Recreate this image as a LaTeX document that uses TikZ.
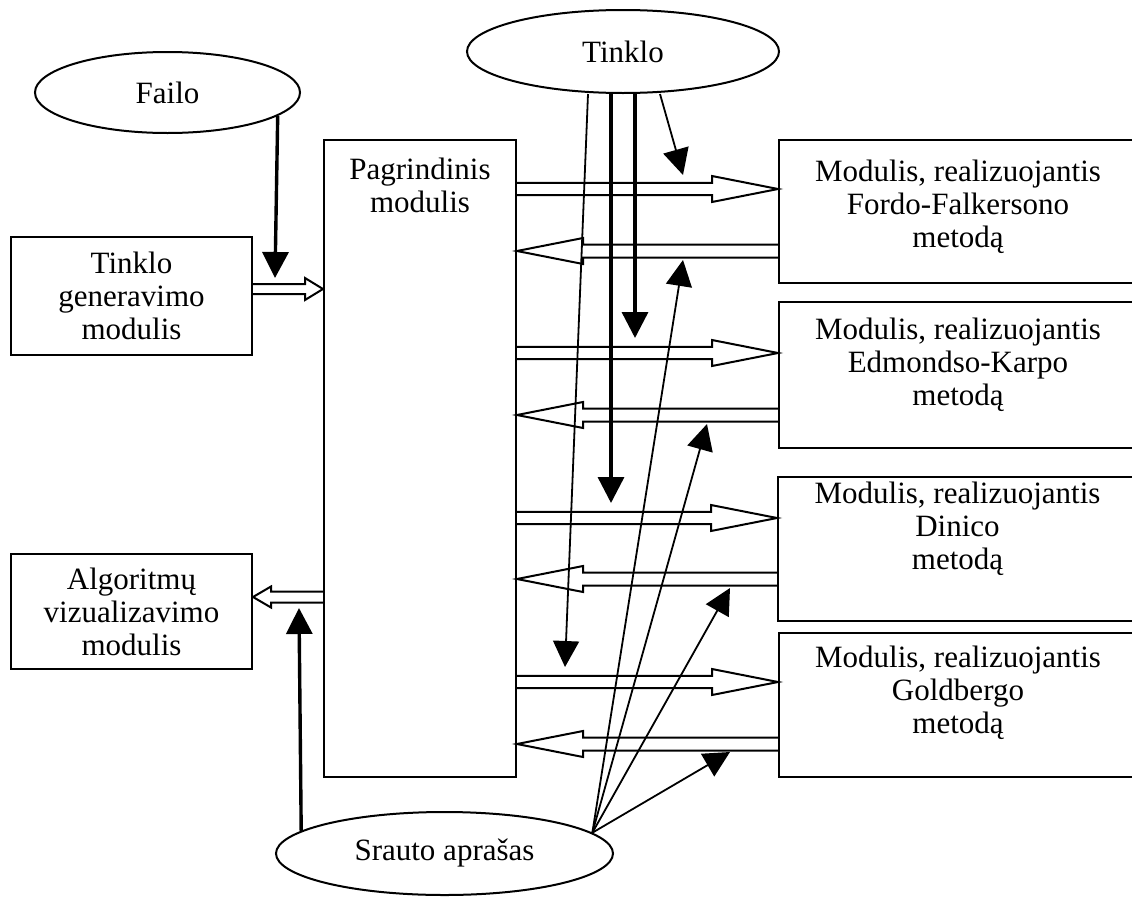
\documentclass[tikz,border=0pt]{standalone}
\usepackage{fontspec}
\setmainfont{Liberation Serif}
\usetikzlibrary{arrows.meta,calc,shapes.geometric}
\newcommand\hollowarrow[5]{%
  \draw[hollow] let \p1=(#1), \p2=(#2) in
    (\x1,{\y2+#3}) -- ({\x2-(#5)},{\y2+#3}) -- ({\x2-(#5)},{\y2+#4}) -- (\x2,\y2)
    -- ({\x2-(#5)},{\y2-#4}) -- ({\x2-(#5)},{\y2-#3}) -- (\x1,{\y2-#3});}
\begin{document}
\begin{tikzpicture}[x=1pt,y=-1pt,
  box/.style={draw, line width=2pt, inner sep=0pt, rectangle},
  lbl/.style={inner sep=0pt, align=center, font=\fontsize{31}{33}\selectfont},
  ell/.style={draw, ellipse, line width=2pt, inner sep=0pt, font=\fontsize{31}{33}\selectfont},
  thinarr/.style={line width=1.8pt, -{Triangle[length=26pt,width=26pt]}},
  thickarr/.style={line width=3.4pt, -{Triangle[length=26pt,width=26pt]}},
  hollow/.style={line width=2pt, line join=miter}]
\useasboundingbox (0,0) rectangle (1132,897);
\clip (0,0) rectangle (1132,897);

% ellipses
\node[ell, minimum width=265pt, minimum height=81pt] (failo) at (167.5,92.5) {Failo};
\node[ell, minimum width=312pt, minimum height=83pt] (tinklo) at (623,51.5) {Tinklo};
\node[ell, minimum width=337pt, minimum height=83pt] (srautas) at (444.5,853.5) {Srauto aprašas};

% boxes
\node[box, minimum width=241pt, minimum height=118pt, lbl] (gen) at (131.5,296)
  {\fontsize{31}{34}\selectfont Tinklo\\generavimo\\modulis};
\node[box, minimum width=241pt, minimum height=115pt, lbl] (viz) at (131.5,611.5)
  {\fontsize{31}{31}\selectfont Algoritmų\\vizualizavimo\\modulis};
\node[box, minimum width=192pt, minimum height=637pt] (main) at (420,458.5) {};
\node[box, minimum width=358pt, minimum height=143pt] (m1) at (958,211.5) {};
\node[box, minimum width=358pt, minimum height=146pt] (m2) at (958,375) {};
\node[box, minimum width=359pt, minimum height=144pt] (m3) at (957.5,549) {};
\node[box, minimum width=358pt, minimum height=144pt] (m4) at (958,705) {};

% box texts
\node[lbl, anchor=north] (maint) at ($(main.north)+(0,19)$) {Pagrindinis\\modulis};
\node[lbl, anchor=north] (m1t) at ($(m1.north)+(0,21)$) {Modulis, realizuojantis\\Fordo-Falkersono\\metodą};
\node[lbl, anchor=north] (m2t) at ($(m2.north)+(0,17)$) {Modulis, realizuojantis\\Edmondso-Karpo\\metodą};
\node[lbl, anchor=north] (m3t) at ($(m3.north)+(0,6)$) {Modulis, realizuojantis\\Dinico\\metodą};
\node[lbl, anchor=north] (m4t) at ($(m4.north)+(0,14)$) {Modulis, realizuojantis\\Goldbergo\\metodą};

% rows of hollow arrows
\coordinate (rg) at (0,289);
\coordinate (rv) at (0,597);
\coordinate (r1) at (0,189);  \coordinate (l1) at (0,251);
\coordinate (r2) at (0,353);  \coordinate (l2) at (0,415);
\coordinate (r3) at (0,518);  \coordinate (l3) at (0,579);
\coordinate (r4) at (0,682);  \coordinate (l4) at (0,744);

\hollowarrow{gen.east |- rg}{main.west |- rg}{5pt}{11pt}{18pt}
\hollowarrow{main.west |- rv}{viz.east |- rv}{5.5pt}{10.5pt}{-18pt}
\hollowarrow{main.east |- r1}{m1.west |- r1}{6.2pt}{13pt}{66pt}
\hollowarrow{m1.west |- l1}{main.east |- l1}{6.5pt}{13pt}{-66pt}
\hollowarrow{main.east |- r2}{m2.west |- r2}{6.2pt}{13pt}{66pt}
\hollowarrow{m2.west |- l2}{main.east |- l2}{6.5pt}{13pt}{-66pt}
\hollowarrow{main.east |- r3}{m3.west |- r3}{6.2pt}{13pt}{66pt}
\hollowarrow{m3.west |- l3}{main.east |- l3}{6.5pt}{13pt}{-66pt}
\hollowarrow{main.east |- r4}{m4.west |- r4}{6.2pt}{13pt}{66pt}
\hollowarrow{m4.west |- l4}{main.east |- l4}{6.5pt}{13pt}{-66pt}

% black arrow tips
\coordinate (ftip) at (275,278);
\coordinate (vtip) at (299,608);
\coordinate (tk1) at (683,175);
\coordinate (tk2) at (635,338);
\coordinate (tk3) at (611,503);
\coordinate (tk4) at (565,667);
\coordinate (sr1) at (683,260);
\coordinate (sr2) at (707,424);
\coordinate (sr3) at (730,588);
\coordinate (sr4) at (730,752);

\draw[thickarr] (failo.-12.6) -- (ftip);
\draw[thickarr] (srautas.171.6) -- (vtip);

\draw[thinarr] ($(tinklo.south)+(-35,0)$) -- (tk4);
\draw[thickarr] ($(tinklo.south)+(-12,0)$) -- (tk3);
\draw[thickarr] ($(tinklo.south)+(12,0)$) -- (tk2);
\draw[thinarr] ($(tinklo.south)+(37,0)$) -- (tk1);

\draw[thinarr] (srautas.8.5) -- (sr1);
\draw[thinarr] (srautas.8.5) -- (sr2);
\draw[thinarr] (srautas.8.5) -- (sr3);
\draw[thinarr] (srautas.8.5) -- (sr4);
\end{tikzpicture}
\end{document}
